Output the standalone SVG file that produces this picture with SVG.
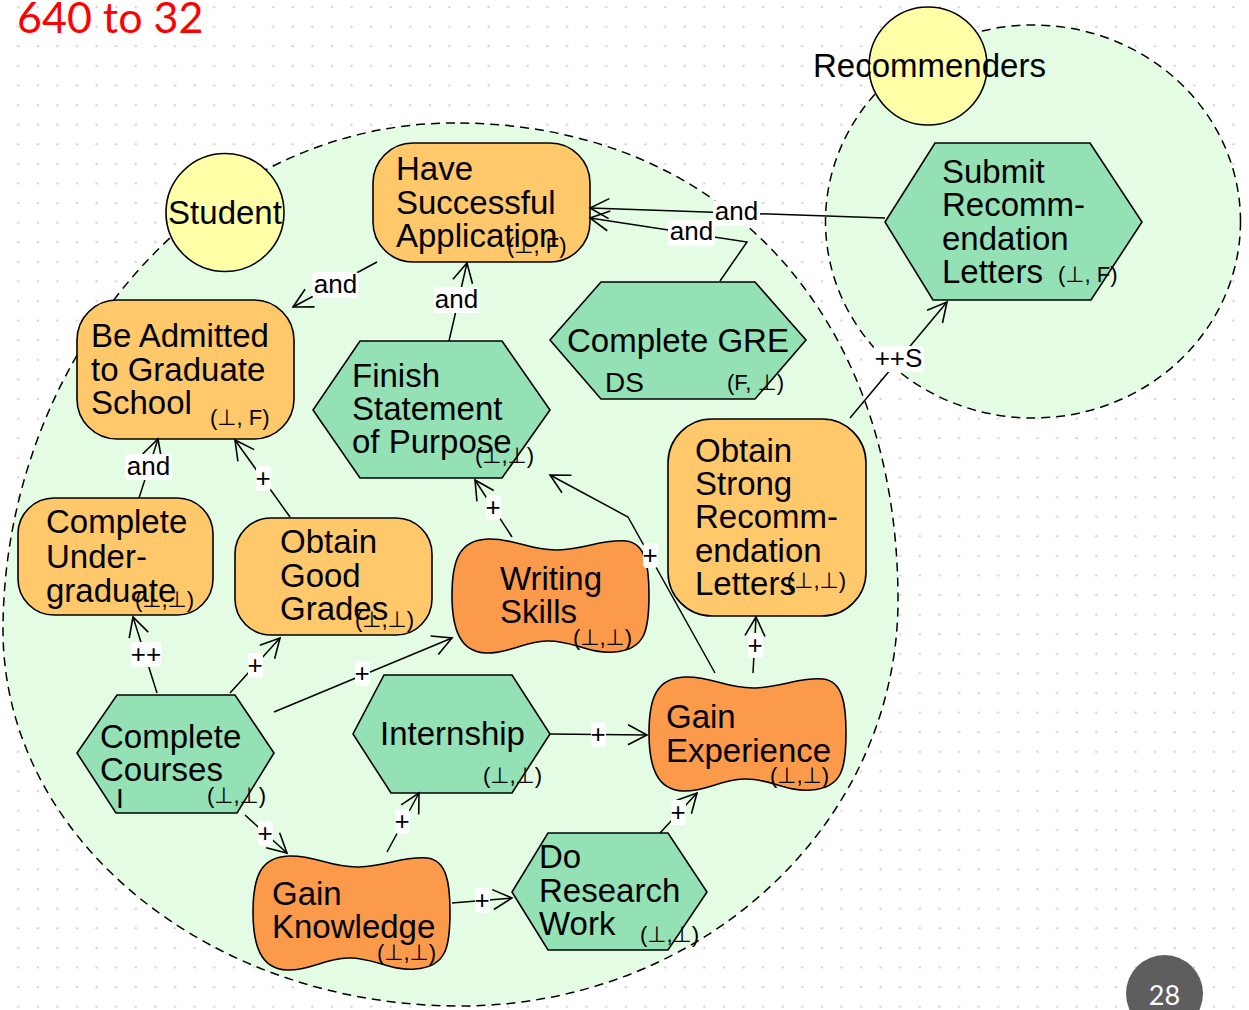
<svg xmlns="http://www.w3.org/2000/svg" width="1249" height="1010" viewBox="0 0 1249 1010">
  <defs>
    <pattern id="dots" patternUnits="userSpaceOnUse" x="0" y="0" width="19.6" height="19.6">
      <circle cx="18.3" cy="7" r="1.2" fill="#d2d2d2"/>
    </pattern>
    <marker id="arr" viewBox="-22 -13 24 26" refX="0" refY="0" markerWidth="24" markerHeight="26" markerUnits="userSpaceOnUse" orient="auto">
      <path d="M-19,-10 L0,0 L-19,10" fill="none" stroke="#000" stroke-width="1.6"/>
    </marker>
    <!-- resource / softgoal style blob, 197 x 116 -->
    <path id="blob" d="M0,58 C0,22 8,3 36,2 C62,1 78,14 106,13 C134,12 150,2 174,4 C194,6 197,30 197,58 C197,92 194,113 162,115 C136,117 120,103 95,104 C70,105 56,117 34,116 C8,115 0,92 0,58 Z"/>
  </defs>
  <style>
    .bound { fill: #e4fce4; stroke: none; }
    .boundline { fill: none; stroke: #000; stroke-width: 1.5; stroke-dasharray: 9 6; }
    .goal { fill: #fec86b; stroke: #000; stroke-width: 1.6; }
    .task { fill: #93e1b4; stroke: #000; stroke-width: 1.6; }
    .res { fill: #fb9a4b; stroke: #000; stroke-width: 1.6; }
    .actor { fill: #ffffa8; stroke: #000; stroke-width: 1.6; }
    text { font-family: "Liberation Sans", Arial, "DejaVu Sans", sans-serif; fill: #000; }
    .t { font-size: 33px; }
    .s { font-size: 22px; }
    .edge { fill: none; stroke: #000; stroke-width: 1.5; marker-end: url(#arr); }
    .lb rect { fill: #fff; }
    .lb text { font-size: 26px; text-anchor: middle; }
  </style>

  <!-- page background -->
  <rect x="0" y="0" width="1249" height="1010" fill="#fff"/>
  <rect x="0" y="0" width="1249" height="1010" fill="url(#dots)"/>

  <!-- actor boundaries -->
  <g id="boundaries">
    <path class="bound" d="M455,123 C193,123 3,370 3,630 C3,838 208,1006 460,1006 C702,1006 898,824 898,600 C898,314 721,123 455,123 Z"/>
    <ellipse class="bound" cx="1033" cy="221.5" rx="207.5" ry="196.5"/>
    <path class="boundline" d="M455,123 C193,123 3,370 3,630 C3,838 208,1006 460,1006 C702,1006 898,824 898,600 C898,314 721,123 455,123 Z"/>
    <ellipse class="boundline" cx="1033" cy="221.5" rx="207.5" ry="196.5"/>
  </g>

  <!-- slide title and page number -->
  <text x="17" y="33" font-family="Lato, 'Open Sans', sans-serif" font-size="43" fill="#ff0000" style="font-family: Lato, 'Open Sans', sans-serif; fill:#ff0000">640 to 32</text>
  <circle cx="1164.5" cy="993.5" r="38.5" fill="#5e5e5e"/>
  <text x="1164.5" y="1005" font-size="27" text-anchor="middle" style="font-family: Lato, 'Open Sans', sans-serif; fill:#fff">28</text>

  <!-- actors -->
  <g id="student">
    <circle class="actor" cx="225" cy="212.5" r="59"/>
    <text class="t" x="225" y="224" text-anchor="middle">Student</text>
  </g>
  <g id="recommenders">
    <circle class="actor" cx="928" cy="66" r="59"/>
    <text class="t" x="813" y="77">Recommenders</text>
  </g>

  <!-- goals -->
  <g id="have-successful-application">
    <rect class="goal" x="373" y="143" width="217" height="119" rx="40"/>
    <text class="t"><tspan x="396" y="180">Have</tspan><tspan x="396" y="214">Successful</tspan><tspan x="396" y="247">Application</tspan></text>
    <text class="s" x="507" y="253">(⊥, F)</text>
  </g>
  <g id="be-admitted">
    <rect class="goal" x="77" y="300" width="217" height="139" rx="40"/>
    <text class="t"><tspan x="91" y="347">Be Admitted</tspan><tspan x="91" y="381">to Graduate</tspan><tspan x="91" y="414">School</tspan></text>
    <text class="s" x="210" y="425">(⊥, F)</text>
  </g>
  <g id="complete-undergraduate">
    <rect class="goal" x="18" y="498" width="195" height="117" rx="36"/>
    <text class="t"><tspan x="46" y="533">Complete</tspan><tspan x="46" y="568">Under-</tspan><tspan x="46" y="602">graduate</tspan></text>
    <text class="s" x="135" y="607">(⊥,⊥)</text>
  </g>
  <g id="obtain-good-grades">
    <rect class="goal" x="235" y="518" width="197" height="117" rx="36"/>
    <text class="t"><tspan x="280" y="553">Obtain</tspan><tspan x="280" y="587">Good</tspan><tspan x="280" y="620">Grades</tspan></text>
    <text class="s" x="355" y="627">(⊥,⊥)</text>
  </g>
  <g id="obtain-strong-recommendation">
    <rect class="goal" x="668" y="419" width="198" height="197" rx="44"/>
    <text class="t"><tspan x="695" y="462">Obtain</tspan><tspan x="695" y="495">Strong</tspan><tspan x="695" y="528">Recomm-</tspan><tspan x="695" y="562">endation</tspan><tspan x="695" y="595">Letters</tspan></text>
    <text class="s" x="787" y="588">(⊥,⊥)</text>
  </g>

  <!-- tasks -->
  <g id="complete-gre">
    <polygon class="task" points="601,282 755,282 806,340 755,399 601,399 550,340"/>
    <text class="t" x="567" y="352">Complete GRE</text>
    <text x="605" y="392" font-size="28">DS</text>
    <text class="s" x="727" y="390">(F, ⊥)</text>
  </g>
  <g id="finish-statement">
    <polygon class="task" points="360,341 502,341 550,410 502,478 360,478 313,410"/>
    <text class="t"><tspan x="352" y="387">Finish</tspan><tspan x="352" y="420">Statement</tspan><tspan x="352" y="453">of Purpose</tspan></text>
    <text class="s" x="475" y="463">(⊥,⊥)</text>
  </g>
  <g id="submit-recommendation">
    <polygon class="task" points="935,143 1090,143 1142,222 1091,300 933,300 885,222"/>
    <text class="t"><tspan x="942" y="183">Submit</tspan><tspan x="942" y="216">Recomm-</tspan><tspan x="942" y="250">endation</tspan><tspan x="942" y="283">Letters</tspan></text>
    <text class="s" x="1058" y="282">(⊥, F)</text>
  </g>
  <g id="internship">
    <polygon class="task" points="384,675 512,675 550,734 512,793 391,793 353,734"/>
    <text class="t" x="380" y="745">Internship</text>
    <text class="s" x="483" y="783">(⊥,⊥)</text>
  </g>
  <g id="do-research-work">
    <polygon class="task" points="548,833 668,833 707,892 668,950 548,950 512,892"/>
    <text class="t"><tspan x="539" y="868">Do</tspan><tspan x="539" y="902">Research</tspan><tspan x="539" y="935">Work</tspan></text>
    <text class="s" x="640" y="942">(⊥,⊥)</text>
  </g>
  <g id="complete-courses">
    <polygon class="task" points="117,695 235,695 274,753 237,813 116,813 77,753"/>
    <text class="t"><tspan x="100" y="748">Complete</tspan><tspan x="100" y="781">Courses</tspan></text>
    <text x="116" y="808" font-size="28">I</text>
    <text class="s" x="207" y="803">(⊥,⊥)</text>
  </g>

  <!-- resources -->
  <g id="writing-skills">
    <use href="#blob" class="res" transform="translate(452,537)"/>
    <text class="t"><tspan x="500" y="590">Writing</tspan><tspan x="500" y="623">Skills</tspan></text>
    <text class="s" x="573" y="645">(⊥,⊥)</text>
  </g>
  <g id="gain-experience">
    <use href="#blob" class="res" transform="translate(649,675)"/>
    <text class="t"><tspan x="666" y="728">Gain</tspan><tspan x="666" y="762">Experience</tspan></text>
    <text class="s" x="770" y="783">(⊥,⊥)</text>
  </g>
  <g id="gain-knowledge">
    <use href="#blob" class="res" transform="translate(253,854)"/>
    <text class="t"><tspan x="272" y="905">Gain</tspan><tspan x="272" y="938">Knowledge</tspan></text>
    <text class="s" x="377" y="960">(⊥,⊥)</text>
  </g>

  <!-- links -->
  <g id="connectors">
    <path class="edge" d="M377,262 L293,307"/>
    <path class="edge" d="M449,341 L467,263"/>
    <path class="edge" d="M720,281 L747,242 L590,218"/>
    <path class="edge" d="M885,218 L590,208"/>
    <path class="edge" d="M139,498 L158,439"/>
    <path class="edge" d="M290,517 L235,440"/>
    <path class="edge" d="M157,693 L133,617"/>
    <path class="edge" d="M230,693 L280,638"/>
    <path class="edge" d="M274,712 L452,638"/>
    <path class="edge" d="M245,815 L287,853"/>
    <path class="edge" d="M387,852 L419,793"/>
    <path class="edge" d="M452,903 L512,898"/>
    <path class="edge" d="M550,734 L647,735"/>
    <path class="edge" d="M660,833 L697,793"/>
    <path class="edge" d="M753,673 L756,617"/>
    <path class="edge" d="M715,673 L628,517 L550,475"/>
    <path class="edge" d="M512,537 L475,480"/>
    <path class="edge" d="M850,418 L947,302"/>

    <!-- link labels -->
    <g class="lb"><rect x="312" y="272" width="47" height="26" rx="4"/><text x="335.5" y="293">and</text></g>
    <g class="lb"><rect x="433" y="287" width="47" height="26" rx="4"/><text x="456.5" y="308">and</text></g>
    <g class="lb"><rect x="668" y="220" width="47" height="26" rx="4"/><text x="691.5" y="240">and</text></g>
    <g class="lb"><rect x="713" y="200" width="47" height="26" rx="4"/><text x="736.5" y="220">and</text></g>
    <g class="lb"><rect x="125" y="454" width="47" height="26" rx="4"/><text x="148.5" y="475">and</text></g>
    <g class="lb"><rect x="256" y="466" width="15" height="25" rx="4"/><text x="263" y="487">+</text></g>
    <g class="lb"><rect x="131" y="642" width="30" height="25" rx="4"/><text x="146" y="663">++</text></g>
    <g class="lb"><rect x="248" y="653" width="15" height="25" rx="4"/><text x="255" y="674">+</text></g>
    <g class="lb"><rect x="355" y="661" width="15" height="25" rx="4"/><text x="362" y="682">+</text></g>
    <g class="lb"><rect x="258" y="821" width="15" height="25" rx="4"/><text x="265" y="842">+</text></g>
    <g class="lb"><rect x="395" y="809" width="15" height="25" rx="4"/><text x="402" y="830">+</text></g>
    <g class="lb"><rect x="475" y="888" width="15" height="25" rx="4"/><text x="482" y="909">+</text></g>
    <g class="lb"><rect x="591" y="722" width="15" height="25" rx="4"/><text x="598" y="743">+</text></g>
    <g class="lb"><rect x="671" y="800" width="15" height="25" rx="4"/><text x="678" y="821">+</text></g>
    <g class="lb"><rect x="748" y="633" width="15" height="25" rx="4"/><text x="755" y="654">+</text></g>
    <g class="lb"><rect x="643" y="543" width="15" height="25" rx="4"/><text x="650" y="564">+</text></g>
    <g class="lb"><rect x="486" y="495" width="15" height="25" rx="4"/><text x="493" y="516">+</text></g>
    <g class="lb"><rect x="873" y="346" width="51" height="26" rx="4"/><text x="898.5" y="367">++S</text></g>
  </g>
</svg>
